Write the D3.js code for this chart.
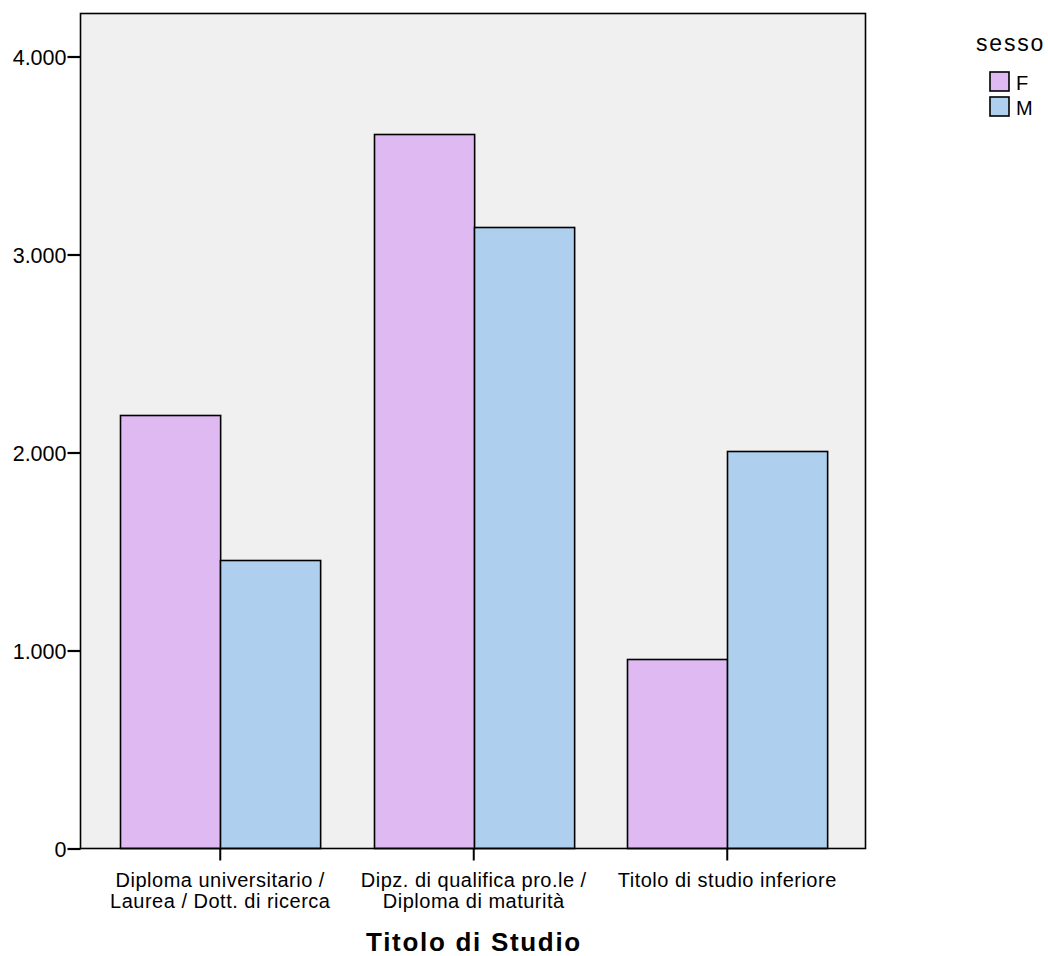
<!DOCTYPE html>
<html><head><meta charset="utf-8">
<script src="https://cdn.jsdelivr.net/npm/d3@7"></script>
<style>body{margin:0;background:#fff;} text{font-family:Arial,"Liberation Sans",sans-serif;}</style>
</head><body><svg id="c" width="1048" height="956"></svg>
<script>
const categories = [["Diploma universitario /","Laurea / Dott. di ricerca"],["Dipz. di qualifica pro.le /","Diploma di maturità"],["Titolo di studio inferiore"]];
const catKeys = ["c1","c2","c3"];
const seriesNames = ["F","M"];
const valuesF = [2187, 3611, 955];
const valuesM = [1455, 3141, 2010];
const yTicks = [0,1000,2000,3000,4000];
const yTickLabels = ["0","1.000","2.000","3.000","4.000"];
const colors = {F:"#dfbaf2", M:"#aecfee"};

const svg = d3.select("#c");
const L=80.5, R=865.5, T=13.5, B=848.5;
const y = d3.scaleLinear().domain([0,4000]).range([B, B-4*198]);
const x = d3.scaleBand().domain(catKeys).range([93.5,854]).paddingInner(0.21).paddingOuter(0.105);
const xs = d3.scaleBand().domain(seriesNames).range([0,x.bandwidth()]);

svg.append("rect").attr("x",L).attr("y",T).attr("width",R-L).attr("height",B-T).attr("fill","#f0f0f0");

const data = [];
catKeys.forEach((k,i)=>{data.push({k,s:"F",v:valuesF[i]});data.push({k,s:"M",v:valuesM[i]});});
svg.append("g").selectAll("rect").data(data).join("rect")
  .attr("x",d=>Math.round(x(d.k)+xs(d.s))+0.5)
  .attr("y",d=>Math.round(y(d.v))+0.5)
  .attr("width",xs.bandwidth())
  .attr("height",d=>B-Math.round(y(d.v))-0.5)
  .attr("fill",d=>colors[d.s]).attr("stroke","#000").attr("stroke-width",1.6);

svg.append("rect").attr("x",L).attr("y",T).attr("width",R-L).attr("height",B-T).attr("fill","none").attr("stroke","#000").attr("stroke-width",1.6);

const ya = svg.append("g").attr("transform",`translate(${L},0)`)
  .call(d3.axisLeft(y).tickValues(yTicks).tickFormat((d,i)=>yTickLabels[i]).tickSize(13).tickPadding(1));
ya.select(".domain").remove();
ya.selectAll("line").attr("stroke","#000").attr("stroke-width",2.2);
ya.selectAll("text").attr("font-size",21.5).attr("font-family","Arial, 'Liberation Sans', sans-serif").attr("fill","#000").attr("dy","0.36em");

const xa = svg.append("g").attr("transform",`translate(0,${B})`)
  .call(d3.axisBottom(x).tickSize(12).tickFormat(""));
xa.select(".domain").remove();
xa.selectAll("line").attr("stroke","#000").attr("stroke-width",2);
xa.selectAll(".tick").each(function(d,i){
  const t=d3.select(this).append("text").attr("fill","#000").attr("font-size",20)
    .attr("font-family","Arial, 'Liberation Sans', sans-serif").attr("letter-spacing",0.5).attr("text-anchor","middle");
  categories[i].forEach((line,j)=>t.append("tspan").attr("x",0).attr("y",38+j*21).text(line));
});

svg.append("text").attr("x",474).attr("y",951).attr("text-anchor","middle").attr("font-size",26).attr("letter-spacing",1.7).attr("font-weight","bold").attr("fill","#000").text("Titolo di Studio");

const lg = svg.append("g");
lg.append("text").attr("x",976).attr("y",51).attr("font-size",23).attr("letter-spacing",1.8).attr("fill","#000").text("sesso");
seriesNames.forEach((s,i)=>{
  lg.append("rect").attr("x",990).attr("y",72+i*25).attr("width",19).attr("height",19).attr("fill",colors[s]).attr("stroke","#000").attr("stroke-width",1.6);
  lg.append("text").attr("x",1016).attr("y",90+i*25).attr("font-size",20).attr("fill","#000").text(s);
});
</script></body></html>
